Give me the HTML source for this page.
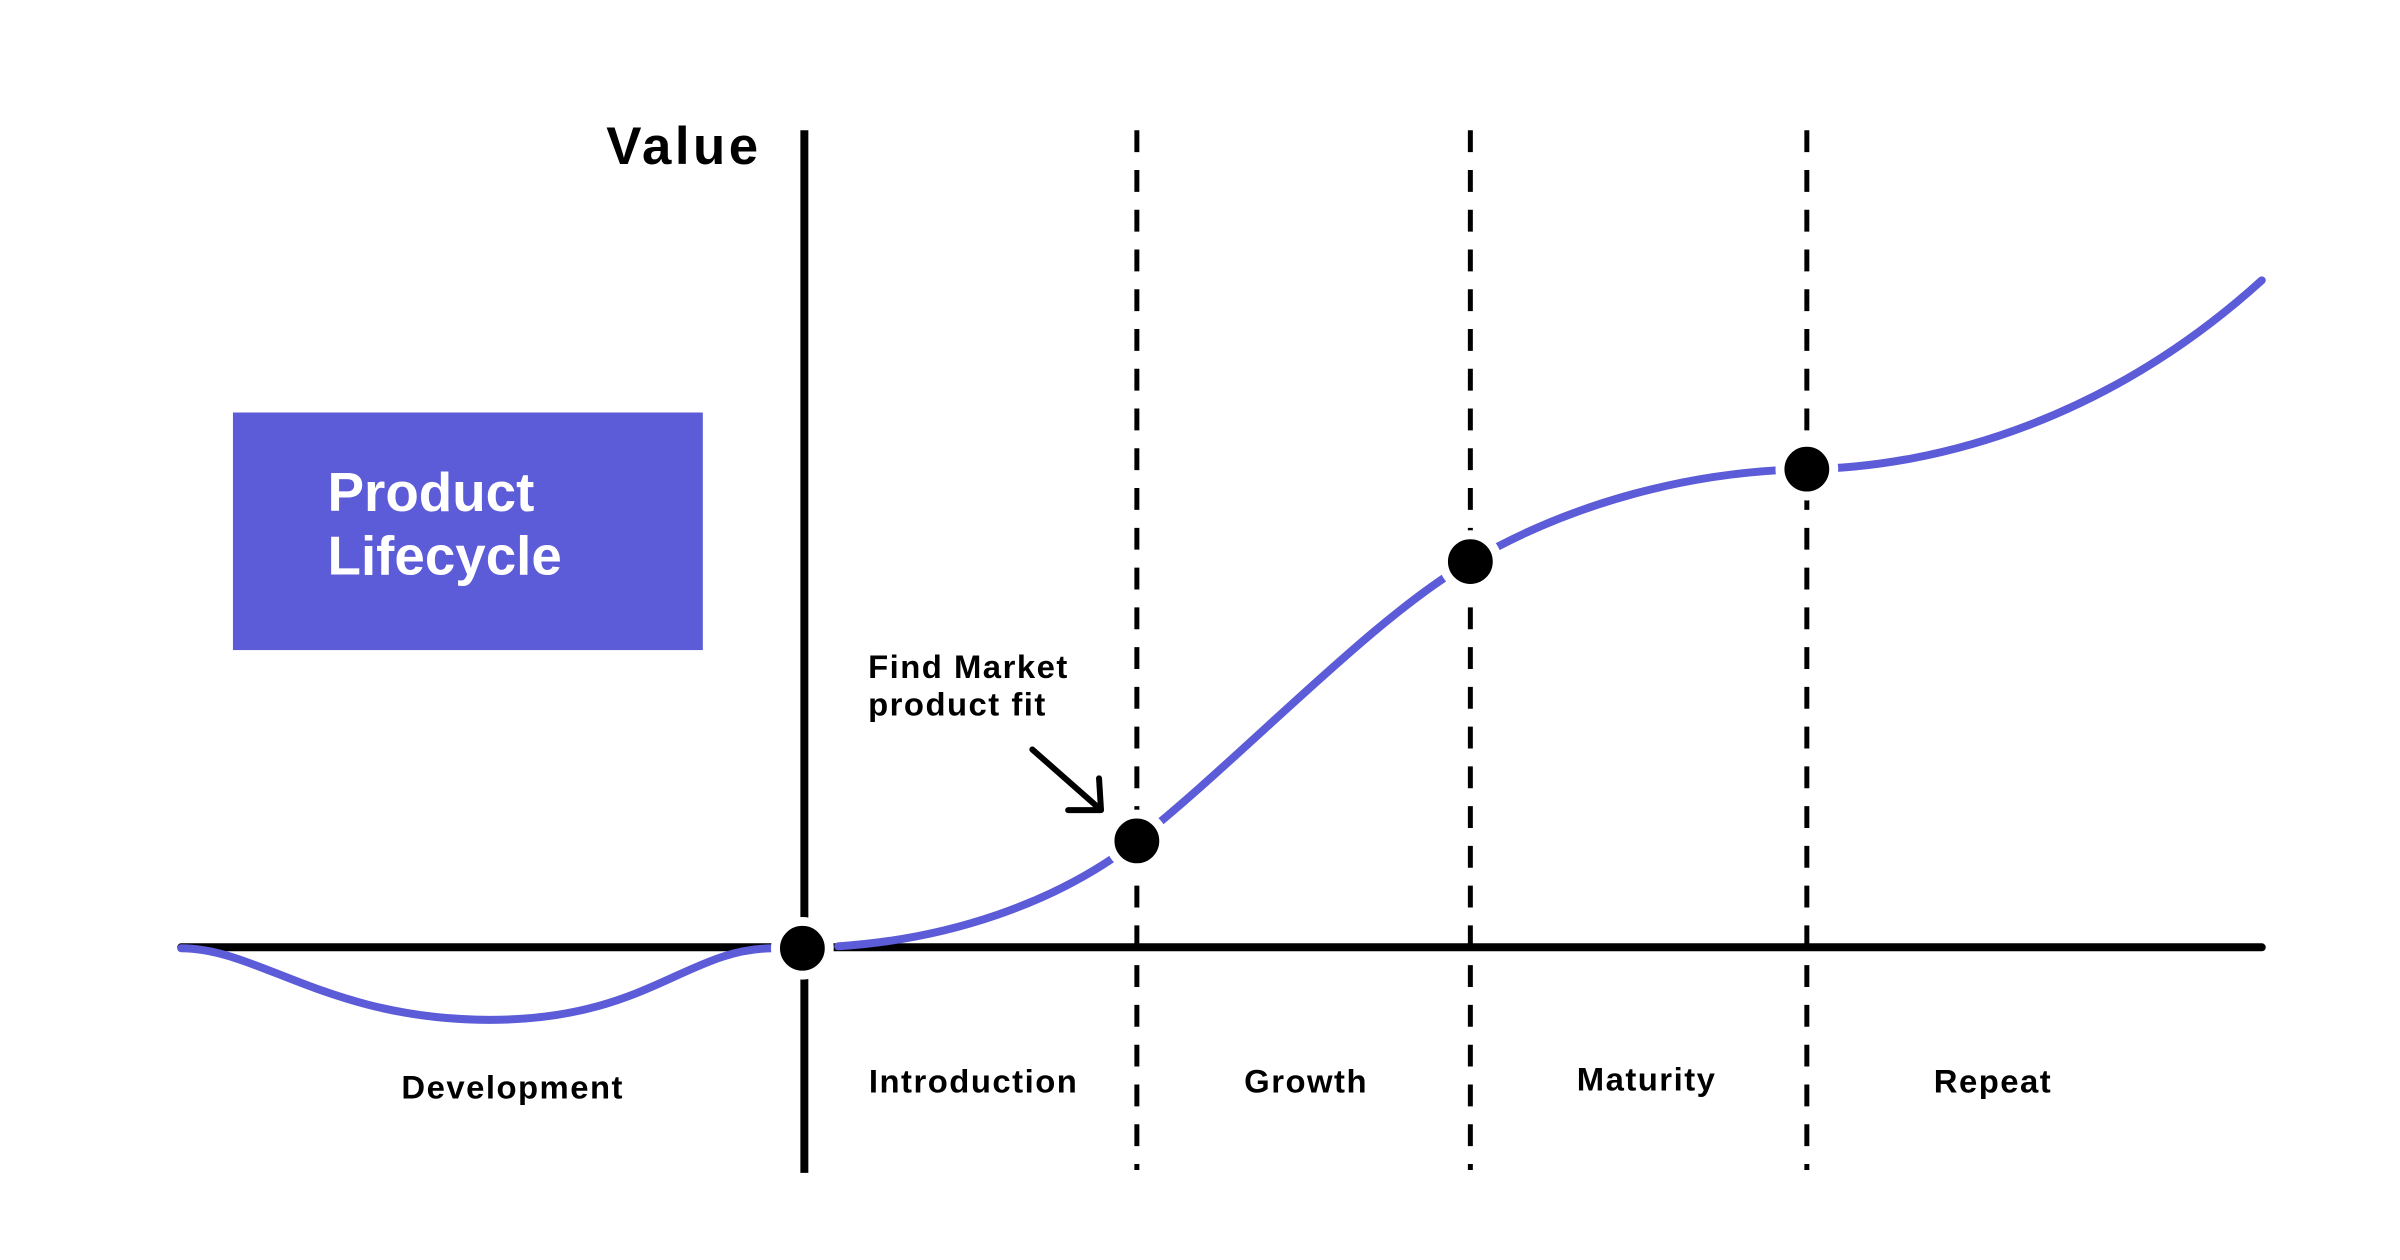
<!DOCTYPE html>
<html><head><meta charset="utf-8"><style>
html,body{margin:0;padding:0;background:#fff;}
svg{display:block;}
text{font-family:"Liberation Sans",sans-serif;font-weight:bold;}
</style></head><body>
<svg width="2400" height="1260" viewBox="0 0 2400 1260" xmlns="http://www.w3.org/2000/svg">
<rect width="2400" height="1260" fill="#fff"/>
<g transform="scale(0.9955,0.994)">
<rect x="234" y="415" width="472" height="239" fill="#5C5BD8"/>
<text x="329" y="514" font-size="55" fill="#fff">Product</text>
<text x="329" y="578" font-size="55" fill="#fff">Lifecycle</text>
<text x="609" y="165" font-size="53" fill="#000" letter-spacing="3.5">Value</text>
<line x1="808" y1="131" x2="808" y2="1180" stroke="#000" stroke-width="8"/>
<line x1="182" y1="953" x2="2272" y2="953" stroke="#000" stroke-width="8" stroke-linecap="round"/>
<g stroke="#000" stroke-width="5" stroke-dasharray="22,18">
<line x1="1142" y1="131" x2="1142" y2="1177"/>
<line x1="1477" y1="131" x2="1477" y2="1177"/>
<line x1="1815" y1="131" x2="1815" y2="1177"/>
</g>
<g fill="none" stroke="#5C5BD8" stroke-width="8" stroke-linecap="round">
<path d="M182,954 C260,954 330,1026 492,1026 C650,1026 690,954 777,954"/>
<path d="M842,952 C950,945 1060,910 1142,846 C1250,760 1380,620 1477,565 C1580,505 1700,474 1815,472 C1950,470 2120,420 2272,282"/>
</g>
<g fill="#000" stroke="#fff" stroke-width="9">
<circle cx="806" cy="954" r="27"/>
<circle cx="1142" cy="846" r="27"/>
<circle cx="1477" cy="565" r="27"/>
<circle cx="1815" cy="472" r="27"/>
</g>
<text x="872" y="682" font-size="33" fill="#000" letter-spacing="1.5">Find Market</text>
<text x="872" y="720" font-size="33" fill="#000" letter-spacing="1.5">product fit</text>
<g stroke="#000" stroke-width="6" fill="none" stroke-linecap="round" stroke-linejoin="round">
<line x1="1037" y1="754" x2="1105" y2="814"/>
<polyline points="1073,815 1106,815 1104,783"/>
</g>
<g font-size="33" fill="#000" text-anchor="middle" letter-spacing="1.5">
<text x="515" y="1105">Development</text>
<text x="978" y="1099">Introduction</text>
<text x="1312" y="1099">Growth</text>
<text x="1654" y="1097">Maturity</text>
<text x="2002" y="1099">Repeat</text>
</g>
</g>
</svg>
</body></html>
